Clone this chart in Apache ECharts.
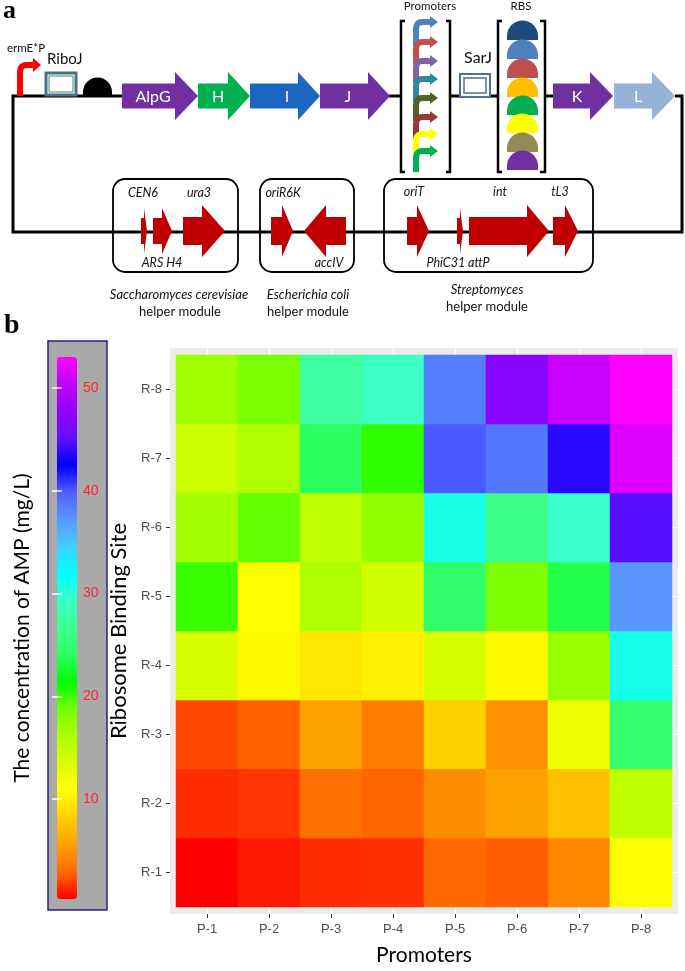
<!DOCTYPE html>
<html>
<head>
<meta charset="utf-8">
<script src="https://cdn.jsdelivr.net/npm/echarts@6/dist/echarts.min.js"></script>
<style>
html,body{margin:0;padding:0;background:#fff;}
#chart{width:685px;height:971px;}
</style>
</head>
<body>
<div id="chart"></div>
<script>
// ---------------- DATA (panel b heatmap) ----------------
const promoters = ['P-1', 'P-2', 'P-3', 'P-4', 'P-5', 'P-6', 'P-7', 'P-8'];
const rbsSites = ['R-1', 'R-2', 'R-3', 'R-4', 'R-5', 'R-6', 'R-7', 'R-8'];
// AMP concentration (mg/L), one array per ribosome binding site, P-1..P-8
const ampR1 = [0.3, 0.9, 1.4, 1.5, 2.9, 2.6, 4.4, 10.8];
const ampR2 = [1.4, 1.6, 3.2, 2.8, 4.6, 5.7, 7.4, 15.0];
const ampR3 = [2.1, 2.7, 5.6, 3.9, 8.3, 4.8, 12.0, 24.9];
const ampR4 = [13.6, 10.5, 9.6, 10.0, 13.7, 10.5, 17.1, 30.9];
const ampR5 = [20.1, 10.8, 15.9, 14.0, 24.6, 18.5, 23.4, 37.2];
const ampR6 = [16.5, 19.2, 15.0, 17.3, 30.8, 26.2, 29.4, 44.9];
const ampR7 = [14.3, 15.9, 24.0, 20.3, 40.0, 38.7, 43.6, 51.6];
const ampR8 = [16.7, 18.7, 27.4, 29.2, 38.4, 47.1, 50.7, 53.0];
const legendTicks = [10, 20, 30, 40, 50];
const ampMin = 0.3;
const ampMax = 53.0;

// colour ramp (red-yellow-green-cyan-blue-magenta)
const rampColors = ['#FF0000', '#FF6A00', '#FFA000', '#FFCE00', '#FFFF00',
  '#DAFF00', '#ACFF00', '#78FF00', '#00FF00',
  '#2CFF60', '#40FF90', '#3CFFC8', '#00FFFF',
  '#40D0FF', '#5A96FF', '#5060FF', '#0000FF',
  '#6010FF', '#9400FF', '#C000FF', '#FF00FF'];

const ampRows = [ampR1, ampR2, ampR3, ampR4, ampR5, ampR6, ampR7, ampR8];
const heatData = [];
ampRows.forEach(function (row, r) {
  row.forEach(function (v, p) { heatData.push([p, r, v]); });
});

// ---------------- PANEL a diagram (decorative graphics) ----------------
const G = [];
const FONT = 'Lato';
function poly(points, w, color) {
  G.push({ type: 'polyline', shape: { points: points }, style: { stroke: color || '#000', lineWidth: w || 3, fill: null } });
}
function polygon(points, fill) {
  G.push({ type: 'polygon', shape: { points: points }, style: { fill: fill } });
}
function arrow(x0, x1, cy, bh, hh, hl, color, leftward) {
  let pts;
  if (!leftward) {
    pts = [[x0, cy - bh], [x1 - hl, cy - bh], [x1 - hl, cy - hh], [x1, cy], [x1 - hl, cy + hh], [x1 - hl, cy + bh], [x0, cy + bh]];
  } else {
    pts = [[x1, cy - bh], [x0 + hl, cy - bh], [x0 + hl, cy - hh], [x0, cy], [x0 + hl, cy + hh], [x0 + hl, cy + bh], [x1, cy + bh]];
  }
  polygon(pts, color);
}
function bentArrow(x, bottom, y, tipX, color, w, headHalf, headLen) {
  // stem up, rounded corner, then horizontal to the head
  G.push({ type: 'polyline', shape: { points: [[x, bottom], [x, y + 7], [x + 0.6, y + 3.5], [x + 2, y + 1.4], [x + 4, y + 0.3], [x + 7, y], [tipX - headLen + 1, y]] },
    style: { stroke: color, lineWidth: w, fill: null, lineJoin: 'round' } });
  polygon([[tipX - headLen, y - headHalf], [tipX, y], [tipX - headLen, y + headHalf]], color);
}
function text(x, y, str, size, opts) {
  opts = opts || {};
  G.push({
    type: 'text', x: x, y: y, z: 5,
    style: {
      text: str, fill: opts.fill || '#111',
      font: (opts.style || '') + ' ' + (opts.weight || '') + ' ' + size + 'px ' + (opts.family || FONT),
      align: opts.align || 'center', textAlign: opts.align || 'center',
      verticalAlign: 'middle', textVerticalAlign: 'middle'
    }
  });
}
function rect(x, y, w, h, style, r) {
  G.push({ type: 'rect', shape: { x: x, y: y, width: w, height: h, r: r || 0 }, style: style });
}

// legend box (grey with navy border)
rect(48, 341, 59, 569, { fill: '#A9A9A9', stroke: '#22228A', lineWidth: 1.5 });

// backbone
poly([[122, 96], [13, 96], [13, 232], [682, 232], [682, 96], [675, 96]], 3);
poly([[389, 96], [401, 96]], 3);
poly([[450, 96], [460, 96]], 3);
poly([[490, 96], [498, 96]], 3);
poly([[545, 96], [554, 96]], 3);

// ermE*P promoter
bentArrow(20, 96, 65, 41, '#FF0000', 6, 7, 8);
text(7, 48, 'ermE*P', 11.5, { align: 'left' });
// RiboJ insulator
text(47, 59, 'RiboJ', 15, { align: 'left' });
rect(46, 73, 30, 22, { fill: '#fff', stroke: '#4A6E8E', lineWidth: 3 });
rect(49, 76, 24, 16, { fill: 'none', stroke: '#2E9A5A', lineWidth: 1 });
// black RBS
G.push({ type: 'sector', shape: { cx: 97.5, cy: 92, r: 14.5, r0: 0, startAngle: Math.PI, endAngle: Math.PI * 2, clockwise: true }, style: { fill: '#000' } });
rect(83, 91.5, 29, 4.5, { fill: '#000' });

// top genes
arrow(122, 198, 96, 12.5, 24, 23, '#7030A0');
arrow(198, 250, 96, 12.5, 24, 22, '#00B050');
arrow(250, 320, 96, 12.5, 24, 22, '#1A66C2');
arrow(320, 390, 96, 12.5, 24, 22, '#7030A0');
arrow(553, 613, 96, 12.5, 24, 23, '#7030A0');
arrow(614, 675, 96, 12.5, 24, 23, '#95B3D7');
const geneLabels = [['AlpG', 153], ['H', 218], ['I', 287], ['J', 348], ['K', 577], ['L', 638]];
geneLabels.forEach(function (g) { text(g[1], 97, g[0], 16, { fill: '#fff' }); });

// promoter library
text(430, 6, 'Promoters', 11.5);
poly([[405, 21], [401, 21], [401, 172], [405, 172]], 2.5);
poly([[446, 21], [450, 21], [450, 172], [446, 172]], 2.5);
const promTips = [22, 42, 61, 79, 98, 117, 134, 151];
const promCols = ['#4F81BD', '#C0504D', '#8064A2', '#31859C', '#4F6228', '#953735', '#FFFF00', '#00B050'];
promTips.forEach(function (y, i) {
  const bottom = i < promTips.length - 1 ? promTips[i + 1] + 4 : 172;
  bentArrow(416, bottom, y, 438, promCols[i], 6, 6, 8);
});

// SarJ
text(478, 58, 'SarJ', 16);
rect(460, 74, 30, 23, { fill: '#fff', stroke: '#4F6D9F', lineWidth: 2 });
rect(464, 78, 22, 15, { fill: 'none', stroke: '#4F6D9F', lineWidth: 1.5 });

// RBS library
text(521, 6, 'RBS', 11.5);
poly([[502, 21], [498, 21], [498, 172], [502, 172]], 2.5);
poly([[540, 21], [545, 21], [545, 172], [540, 172]], 2.5);
const domeBottoms = [40, 59, 78, 97, 115, 133, 152, 170];
const domeCols = ['#1F497D', '#4F81BD', '#C0504D', '#FFC000', '#00B050', '#FFFF00', '#948A54', '#7030A0'];
domeBottoms.forEach(function (b, i) {
  G.push({ type: 'sector', shape: { cx: 522.5, cy: b - 4, r: 15.5, r0: 0, startAngle: Math.PI, endAngle: Math.PI * 2, clockwise: true }, style: { fill: domeCols[i] } });
  rect(507, b - 4.5, 31, 4.5, { fill: domeCols[i] });
});

// helper modules
const boxStyle = { fill: 'none', stroke: '#000', lineWidth: 1.8 };
rect(113, 179, 125, 93, boxStyle, 12);
rect(260, 179, 94, 93, boxStyle, 12);
rect(384, 179, 209, 93, boxStyle, 12);
const RED = '#C00000';
arrow(141, 147, 231, 13, 23, 3, RED);
arrow(153, 172, 231, 13, 23, 10, RED);
arrow(183, 225, 231, 14, 26, 23, RED);
arrow(271, 293, 231, 14, 26, 11, RED);
arrow(304, 346, 231, 14, 26, 22, RED, true);
arrow(407, 429, 231, 14, 26, 12, RED);
arrow(457, 463, 231, 13, 23, 3, RED);
arrow(469, 549, 231, 14, 26, 22, RED);
arrow(553, 578, 231, 14, 26, 13, RED);
const it = { style: 'italic' };
text(143, 193, 'CEN6', 12.5, it);
text(199, 193, 'ura3', 12.5, it);
text(162, 263, 'ARS H4', 12.5, it);
text(283, 193, 'oriR6K', 12.5, it);
text(329, 263, 'accIV', 12.5, it);
text(414, 192, 'oriT', 12.5, it);
text(500, 192, 'int', 12.5, it);
text(560, 192, 'tL3', 12.5, it);
text(458, 263, 'PhiC31 attP', 12.5, it);
text(179, 295, 'Saccharomyces cerevisiae', 13, it);
text(180, 312, 'helper module', 13);
text(308, 295, 'Escherichia coli', 13, it);
text(308, 312, 'helper module', 13);
text(487, 290, 'Streptomyces', 13, it);
text(487, 307, 'helper module', 13);

// panel letters
text(3, 11, 'a', 26, { align: 'left', weight: 'bold', family: 'Liberation Serif', fill: '#000' });
text(4, 326, 'b', 28, { align: 'left', weight: 'bold', family: 'Liberation Serif', fill: '#000' });

// ---------------- CHART ----------------
const chart = echarts.init(document.getElementById('chart'), null, { renderer: 'canvas' });
const axisLabelStyle = { color: '#4D4D4D', fontSize: 13, fontFamily: 'Liberation Sans' };
const hidden = { show: false };

const option = {
  backgroundColor: '#fff',
  animation: false,
  graphic: { elements: G },
  grid: [
    { left: 176, top: 355, width: 496, height: 552 },
    { left: 170, top: 348, width: 508, height: 566, show: true, backgroundColor: '#EBEBEB', borderWidth: 0 },
    { left: 57, top: 357, width: 20, height: 542 }
  ],
  xAxis: [
    {
      gridIndex: 0, type: 'category', data: promoters, offset: 7,
      axisLine: hidden, splitLine: hidden,
      axisTick: { show: true, alignWithLabel: true, length: 4, lineStyle: { color: '#333', width: 1 } },
      axisLabel: Object.assign({ margin: 9 }, axisLabelStyle),
      name: 'Promoters', nameLocation: 'middle', nameGap: 31,
      nameTextStyle: { fontFamily: FONT, fontSize: 21, color: '#000' }
    },
    {
      gridIndex: 1, type: 'value', min: 0.4, max: 8.6, splitNumber: 8, minInterval: 1,
      axisLine: hidden, axisTick: hidden, axisLabel: hidden,
      splitLine: { show: true, showMinLine: false, showMaxLine: false, lineStyle: { color: '#fff', width: 1.2 } }
    },
    { gridIndex: 2, type: 'value', show: false }
  ],
  yAxis: [
    {
      gridIndex: 0, type: 'category', data: rbsSites, offset: 6,
      axisLine: hidden, splitLine: hidden,
      axisTick: { show: true, alignWithLabel: true, length: 4, lineStyle: { color: '#333', width: 1 } },
      axisLabel: Object.assign({ margin: 8 }, axisLabelStyle),
      name: 'Ribosome Binding Site', nameLocation: 'middle', nameGap: 31, nameRotate: 90,
      nameTextStyle: { fontFamily: FONT, fontSize: 22, color: '#000' }
    },
    {
      gridIndex: 1, type: 'value', min: 0.4, max: 8.6, splitNumber: 8, minInterval: 1,
      axisLine: hidden, axisTick: hidden, axisLabel: hidden,
      splitLine: { show: true, showMinLine: false, showMaxLine: false, lineStyle: { color: '#fff', width: 1.2 } }
    },
    {
      gridIndex: 2, type: 'value', min: ampMin, max: ampMax, position: 'right', z: 10,
      axisLine: hidden, splitLine: hidden,
      axisTick: { show: true, inside: true, length: 5, customValues: legendTicks, lineStyle: { color: '#fff', width: 1.5 } },
      axisLabel: { show: true, margin: 6, customValues: legendTicks, color: '#FF2525', fontSize: 14, fontFamily: 'Liberation Sans' }
    },
    {
      gridIndex: 2, type: 'value', min: ampMin, max: ampMax, position: 'left', z: 10,
      axisLine: hidden, splitLine: hidden, axisLabel: hidden,
      axisTick: { show: true, inside: true, length: 5, customValues: legendTicks, lineStyle: { color: '#fff', width: 1.5 } },
      name: 'The concentration of AMP (mg/L)', nameLocation: 'middle', nameRotate: 90, nameGap: 24,
      nameTextStyle: { fontFamily: FONT, fontSize: 21, color: '#000' }
    }
  ],
  visualMap: {
    type: 'continuous', seriesIndex: 0, dimension: 2,
    min: ampMin, max: ampMax, calculable: false, hoverLink: false,
    left: 57, top: 357, itemWidth: 20, itemHeight: 542, padding: 0,
    text: null, showLabel: false,
    inRange: { color: rampColors }
  },
  series: [{
    type: 'heatmap', xAxisIndex: 0, yAxisIndex: 0, data: heatData,
    itemStyle: { borderWidth: 0 },
    emphasis: { disabled: true },
    progressive: 0
  }]
};
chart.setOption(option);
</script>
</body>
</html>
